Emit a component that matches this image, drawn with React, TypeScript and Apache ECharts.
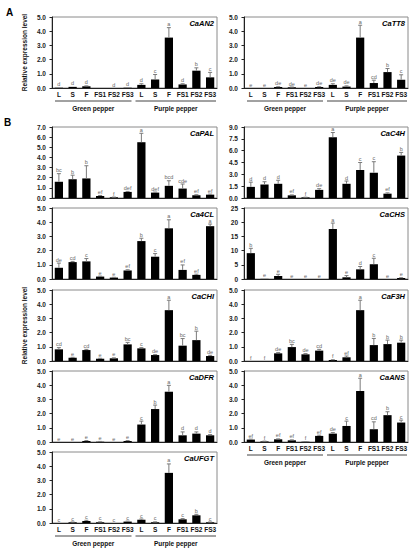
import React, { useEffect, useRef } from "react";
import * as echarts from "echarts";

const categories = ["L", "S", "F", "FS1", "FS2", "FS3", "L", "S", "F", "FS1", "FS2", "FS3"];
const groups = ["Green pepper", "Purple pepper"];

const an2Values = [0.02, 0.08, 0.12, 0, 0, 0.02, 0.22, 0.6, 3.55, 0.25, 1.22, 0.75];
const an2Errors = [0, 0, 0.03, 0, 0, 0, 0.08, 0.35, 0.7, 0.05, 0.2, 0.35];
const an2Letters = ["d", "d", "d", "", "d", "d", "d", "c", "a", "d", "b", "c"];

const tt8Values = [0, 0, 0.07, 0.05, 0, 0.07, 0.22, 0.1, 3.55, 0.35, 1.12, 0.58];
const tt8Errors = [0, 0, 0.02, 0.02, 0, 0.02, 0.08, 0.05, 0.87, 0.2, 0.25, 0.35];
const tt8Letters = ["e", "e", "de", "de", "e", "de", "de", "de", "a", "cd", "b", "c"];

const palValues = [1.6, 1.85, 1.93, 0.2, 0.07, 0.6, 5.5, 0.53, 1.2, 0.93, 0.27, 0.33];
const palErrors = [0.8, 0.4, 1.25, 0.05, 0.02, 0.05, 0.88, 0.05, 0.5, 0.45, 0.05, 0.05];
const palLetters = ["bc", "b", "b", "ef", "f", "def", "a", "def", "bcd", "cde", "ef", "ef"];

const c4hValues = [1.41, 1.71, 1.8, 0.34, 0.08, 1.03, 7.7, 1.8, 3.55, 3.2, 0.55, 5.38];
const c4hErrors = [0.6, 0.35, 0.45, 0.05, 0.02, 0.15, 0.6, 0.35, 0.95, 1.4, 0.1, 0.4];
const c4hLetters = ["d", "d", "d", "ef", "f", "de", "a", "d", "c", "c", "ef", "b"];

const cl4Values = [0.79, 1.19, 1.24, 0.17, 0.1, 0.6, 2.67, 1.57, 3.57, 0.64, 0.29, 3.72];
const cl4Errors = [0.33, 0.05, 0.2, 0.03, 0.02, 0.05, 0.2, 0.22, 0.6, 0.35, 0.05, 0.15];
const cl4Letters = ["de", "cd", "c", "e", "e", "ef", "b", "c", "a", "ef", "ef", "a"];

const chsValues = [9.1, 0.05, 1.06, 0, 0, 0, 17.6, 0.6, 3.4, 5.2, 0, 0.35];
const chsErrors = [1.7, 0, 0.6, 0, 0, 0, 2.1, 0.6, 1.0, 2.1, 0, 0.1];
const chsLetters = ["b", "e", "e", "e", "e", "e", "a", "e", "d", "c", "e", "e"];

const chiValues = [0.82, 0.23, 0.77, 0.16, 0.19, 1.17, 0.89, 0.42, 3.58, 1.08, 1.47, 0.35];
const chiErrors = [0.12, 0.03, 0.05, 0.03, 0.03, 0.14, 0.05, 0.03, 0.7, 0.5, 0.63, 0.05];
const chiLetters = ["cd", "e", "cd", "e", "e", "bc", "c", "de", "a", "bc", "b", "de"];

const f3hValues = [0, 0, 0.54, 0.98, 0.47, 0.73, 0.07, 0.26, 3.58, 1.12, 1.19, 1.29];
const f3hErrors = [0, 0, 0.05, 0.19, 0.05, 0.09, 0.02, 0.09, 0.7, 0.47, 0.28, 0.18];
const f3hLetters = ["f", "f", "de", "bc", "de", "cd", "f", "ef", "a", "b", "b", "b"];

const dfrValues = [0, 0, 0.07, 0.02, 0, 0.07, 1.23, 2.32, 3.54, 0.47, 0.59, 0.47];
const dfrErrors = [0, 0, 0.03, 0.02, 0, 0.03, 0.24, 0.28, 0.45, 0.24, 0.12, 0.05];
const dfrLetters = ["e", "e", "e", "e", "e", "e", "c", "b", "a", "d", "d", "d"];

const ansValues = [0.17, 0.04, 0.19, 0.12, 0.02, 0.43, 0.59, 1.13, 3.59, 0.9, 1.89, 1.37];
const ansErrors = [0.03, 0.02, 0.03, 0.03, 0.01, 0.05, 0.07, 0.34, 0.9, 0.52, 0.24, 0.17];
const ansLetters = ["ef", "f", "ef", "ef", "f", "ef", "de", "c", "a", "cd", "b", "c"];

const ufgtValues = [0, 0.05, 0.14, 0.05, 0, 0.1, 0.23, 0.05, 3.53, 0.26, 0.54, 0.05];
const ufgtErrors = [0, 0.02, 0.05, 0.03, 0, 0.03, 0.05, 0.03, 0.63, 0.05, 0.07, 0.02];
const ufgtLetters = ["c", "c", "c", "c", "c", "c", "c", "c", "a", "c", "b", "c"];

const FONT = "'Liberation Sans', Arial, sans-serif";

// layout
const COL_L = { left: 52, width: 165 };
const COL_R = { left: 244, width: 164 };
const ROW_H = 71;
const A_TOP = 17;
const B_TOPS = [127, 208, 290, 371, 452];

type Panel = {
  name: string;
  values: number[];
  errors: number[];
  letters: string[];
  max: number;
  interval: number;
  dec: boolean;
  left: number;
  width: number;
  top: number;
  showX: boolean;
};

const panels: Panel[] = [
  { name: "CaAN2", values: an2Values, errors: an2Errors, letters: an2Letters, max: 5, interval: 1, dec: true, ...COL_L, top: A_TOP, showX: true },
  { name: "CaTT8", values: tt8Values, errors: tt8Errors, letters: tt8Letters, max: 5, interval: 1, dec: true, ...COL_R, top: A_TOP, showX: true },
  { name: "CaPAL", values: palValues, errors: palErrors, letters: palLetters, max: 7, interval: 1, dec: true, ...COL_L, top: B_TOPS[0], showX: false },
  { name: "CaC4H", values: c4hValues, errors: c4hErrors, letters: c4hLetters, max: 9, interval: 1.5, dec: true, ...COL_R, top: B_TOPS[0], showX: false },
  { name: "Ca4CL", values: cl4Values, errors: cl4Errors, letters: cl4Letters, max: 5, interval: 1, dec: true, ...COL_L, top: B_TOPS[1], showX: false },
  { name: "CaCHS", values: chsValues, errors: chsErrors, letters: chsLetters, max: 25, interval: 5, dec: false, ...COL_R, top: B_TOPS[1], showX: false },
  { name: "CaCHI", values: chiValues, errors: chiErrors, letters: chiLetters, max: 5, interval: 1, dec: true, ...COL_L, top: B_TOPS[2], showX: false },
  { name: "CaF3H", values: f3hValues, errors: f3hErrors, letters: f3hLetters, max: 5, interval: 1, dec: true, ...COL_R, top: B_TOPS[2], showX: false },
  { name: "CaDFR", values: dfrValues, errors: dfrErrors, letters: dfrLetters, max: 5, interval: 1, dec: true, ...COL_L, top: B_TOPS[3], showX: false },
  { name: "CaANS", values: ansValues, errors: ansErrors, letters: ansLetters, max: 5, interval: 1, dec: true, ...COL_R, top: B_TOPS[3], showX: true },
  { name: "CaUFGT", values: ufgtValues, errors: ufgtErrors, letters: ufgtLetters, max: 5, interval: 1, dec: true, ...COL_L, top: B_TOPS[4], showX: true },
];

function buildOption() {
  const grid = panels.map((p) => ({
    left: p.left,
    top: p.top,
    width: p.width,
    height: ROW_H,
    show: true,
    borderColor: "#8a8a8a",
    borderWidth: 1,
  }));
  const xAxis = panels.map((p, i) => ({
    gridIndex: i,
    type: "category",
    data: categories,
    axisTick: { show: false },
    axisLine: { lineStyle: { color: "#222", width: 1 } },
    axisLabel: {
      show: p.showX,
      interval: 0,
      fontSize: 6.5,
      fontWeight: "bold",
      fontFamily: FONT,
      color: "#111",
      margin: 3,
    },
  }));
  const yAxis = panels.map((p, i) => ({
    gridIndex: i,
    type: "value",
    min: 0,
    max: p.max,
    interval: p.interval,
    splitLine: { show: false },
    axisLine: { show: true, lineStyle: { color: "#222", width: 1 } },
    axisTick: { show: true, length: 2.5, lineStyle: { color: "#222" } },
    axisLabel: {
      fontSize: 6.5,
      fontWeight: "bold",
      fontFamily: FONT,
      color: "#222",
      margin: 6,
      formatter: (v: number) => (p.dec ? v.toFixed(1) : String(v)),
    },
  }));
  const series: any[] = [];
  panels.forEach((p, i) => {
    series.push({
      type: "bar",
      xAxisIndex: i,
      yAxisIndex: i,
      data: p.values,
      barWidth: "60%",
      itemStyle: { color: "#000" },
      silent: true,
    });
    series.push({
      type: "custom",
      xAxisIndex: i,
      yAxisIndex: i,
      z: 5,
      silent: true,
      data: p.values.map((v, k) => [k, v, p.errors[k]]),
      renderItem: (params: any, api: any) => {
        const k = api.value(0);
        const v = api.value(1);
        const e = api.value(2);
        const base = api.coord([k, v]);
        const top = api.coord([k, v + e]);
        const children: any[] = [];
        if (e > 0) {
          children.push({
            type: "line",
            shape: { x1: base[0], y1: base[1], x2: top[0], y2: top[1] },
            style: { stroke: "#7a7a7a", lineWidth: 1 },
          });
          children.push({
            type: "line",
            shape: { x1: top[0] - 2, y1: top[1], x2: top[0] + 2, y2: top[1] },
            style: { stroke: "#7a7a7a", lineWidth: 1 },
          });
        }
        children.push({
          type: "text",
          x: top[0],
          y: top[1] - 0.5,
          style: {
            text: p.letters[params.dataIndex],
            fill: "#666",
            font: `5.5px ${FONT}`,
            align: "center",
            verticalAlign: "bottom",
          },
        });
        return { type: "group", children };
      },
    });
  });

  const graphic: any[] = [];
  panels.forEach((p) => {
    graphic.push({
      type: "text",
      x: p.left + p.width - 3,
      y: p.top + 2.5,
      style: {
        text: p.name,
        font: `italic bold 7.5px ${FONT}`,
        fill: "#000",
        align: "right",
        verticalAlign: "top",
      },
    });
    if (p.showX) {
      const bottom = p.top + ROW_H;
      const mid = p.left + p.width / 2;
      graphic.push({
        type: "line",
        shape: { x1: p.left + 3, y1: bottom + 13, x2: mid - 3, y2: bottom + 13 },
        style: { stroke: "#444", lineWidth: 1 },
      });
      graphic.push({
        type: "line",
        shape: { x1: mid + 1, y1: bottom + 13, x2: p.left + p.width - 1, y2: bottom + 13 },
        style: { stroke: "#444", lineWidth: 1 },
      });
      groups.forEach((g, gi) => {
        graphic.push({
          type: "text",
          x: p.left + p.width * (gi === 0 ? 0.25 : 0.75),
          y: bottom + 20,
          style: {
            text: g,
            font: `bold 6.5px ${FONT}`,
            fill: "#111",
            align: "center",
            verticalAlign: "middle",
          },
        });
      });
    }
  });
  graphic.push({
    type: "text",
    x: 24,
    y: A_TOP + ROW_H / 2,
    rotation: Math.PI / 2,
    style: { text: "Relative expression level", font: `bold 6.5px ${FONT}`, fill: "#111", align: "center", verticalAlign: "middle" },
  });
  graphic.push({
    type: "text",
    x: 24,
    y: B_TOPS[2] + ROW_H / 2,
    rotation: Math.PI / 2,
    style: { text: "Relative expression level", font: `bold 6.5px ${FONT}`, fill: "#111", align: "center", verticalAlign: "middle" },
  });
  graphic.push({
    type: "text",
    x: 6,
    y: 7,
    style: { text: "A", font: `bold 10px ${FONT}`, fill: "#000" },
  });
  graphic.push({
    type: "text",
    x: 4,
    y: 117,
    style: { text: "B", font: `bold 10px ${FONT}`, fill: "#000" },
  });

  return {
    animation: false,
    backgroundColor: "#fff",
    grid,
    xAxis,
    yAxis,
    series,
    graphic,
  };
}

export default function App() {
  const ref = useRef<HTMLDivElement>(null);
  useEffect(() => {
    if (!ref.current) return;
    const chart = echarts.init(ref.current, undefined, { renderer: "svg" });
    chart.setOption(buildOption() as any);
    return () => chart.dispose();
  }, []);
  return (
    <div
      ref={ref}
      style={{ position: "absolute", left: 0, top: 0, width: 416, height: 550 }}
    />
  );
}
